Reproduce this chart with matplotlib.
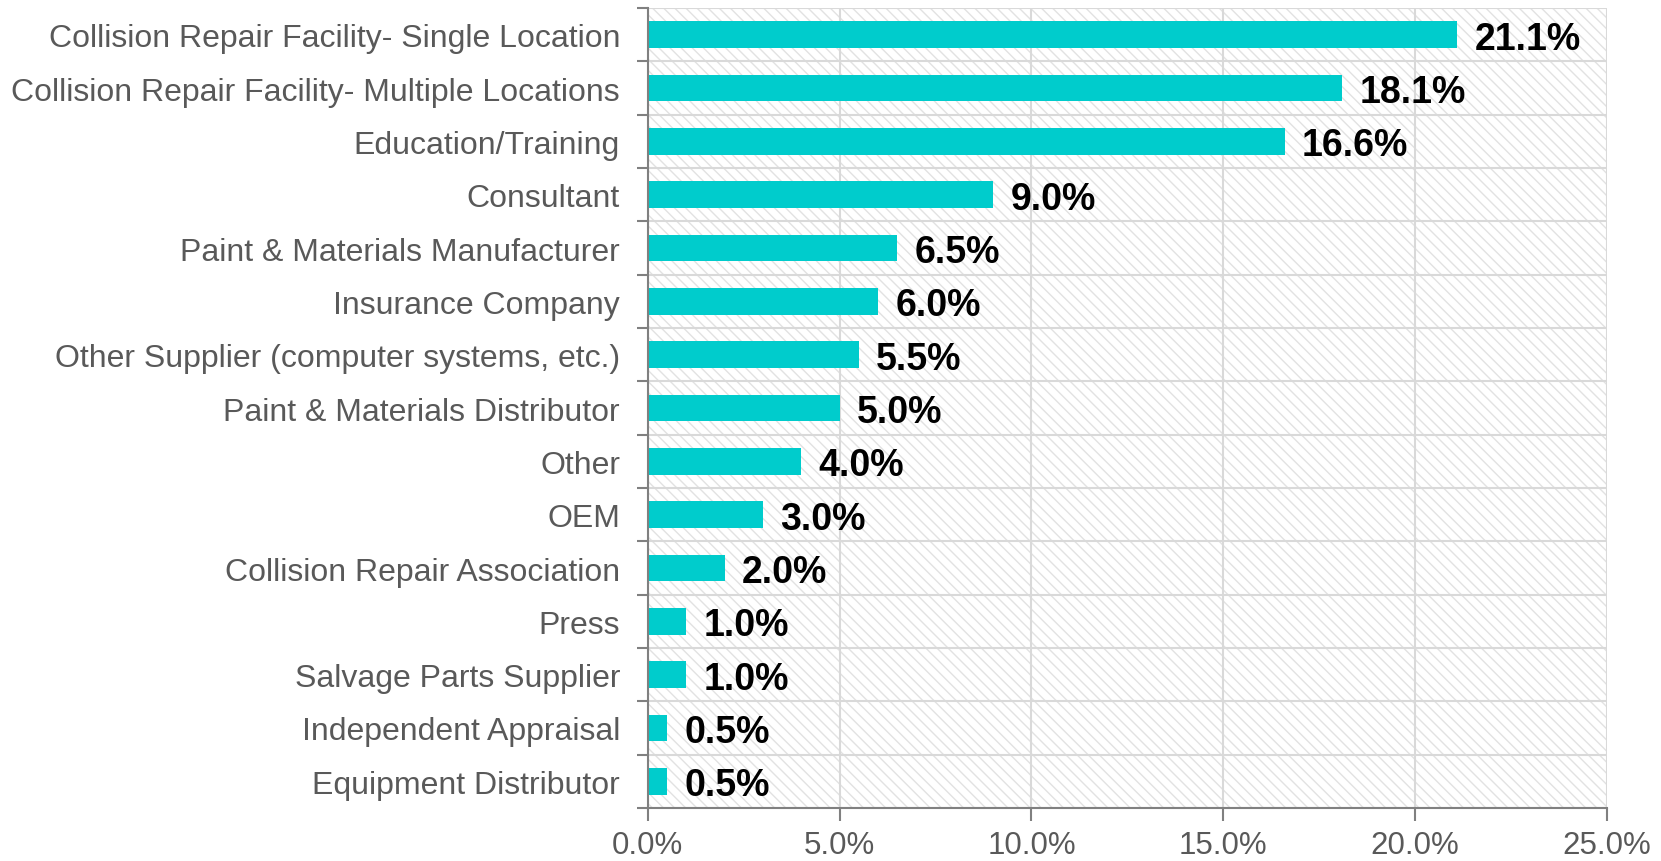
import numpy as np
import matplotlib
matplotlib.use("Agg")
from matplotlib import pyplot as plt
from matplotlib.patches import Rectangle

categories = ["Collision Repair Facility- Single Location",
              "Collision Repair Facility- Multiple Locations",
              "Education/Training",
              "Consultant",
              "Paint & Materials Manufacturer",
              "Insurance Company",
              "Other Supplier (computer systems, etc.)",
              "Paint & Materials Distributor",
              "Other",
              "OEM",
              "Collision Repair Association",
              "Press",
              "Salvage Parts Supplier",
              "Independent Appraisal",
              "Equipment Distributor"]
values = [21.1, 18.1, 16.6, 9.0, 6.5, 6.0, 5.5, 5.0, 4.0, 3.0, 2.0, 1.0, 1.0, 0.5, 0.5]
xticks = [0, 5, 10, 15, 20, 25]

plt.rcParams['font.family'] = ['Liberation Sans', 'DejaVu Sans']
plt.rcParams['hatch.linewidth'] = 1.0

fig = plt.figure(figsize=(16.61, 8.62), dpi=100)
ax = fig.add_axes([0.390, 0.0615, 0.5775, 0.928])

n = len(categories)
ypos = np.arange(n)

# hatched background (hatch colour comes from the edge colour)
bg = Rectangle((0, 0), 1, 1, transform=ax.transAxes, facecolor='white',
               edgecolor='#e2e2e2', linewidth=0, hatch='\\\\\\', zorder=0)
ax.add_patch(bg)

ax.barh(ypos, values, height=0.5, color='#00CCCC', zorder=3)

for y, v in zip(ypos, values):
    ax.text(v + 0.45, y, f"{v:.1f}%", va='center_baseline', ha='left',
            fontsize=27, fontweight='bold', color='black', zorder=4)

ax.set_xlim(0, 25)
ax.set_ylim(n - 0.5, -0.5)
ax.set_xticks(xticks)
ax.set_xticklabels([f"{t:.1f}%" for t in xticks])
ax.set_yticks(ypos)
ax.set_yticklabels(categories)
ax.set_yticks(np.arange(n + 1) - 0.5, minor=True)

ax.grid(axis='x', which='major', color='#d9d9d9', linewidth=1.5, zorder=1)
ax.grid(axis='y', which='minor', color='#d9d9d9', linewidth=1.5, zorder=1)
ax.set_axisbelow(True)

for s in ['top', 'right']:
    ax.spines[s].set_visible(False)
for s in ['left', 'bottom']:
    ax.spines[s].set_color('#808080')
    ax.spines[s].set_linewidth(1.5)
    ax.spines[s].set_zorder(5)

ax.tick_params(axis='y', which='major', length=0, pad=20, labelsize=23, labelcolor='#595959')
ax.tick_params(axis='y', which='minor', length=8, width=1.5, color='#808080', direction='out')
ax.tick_params(axis='x', which='major', length=9, width=1.5, color='#808080', direction='out',
               pad=7, labelsize=22.5, labelcolor='#595959')

fig.savefig("out.png", dpi=100)
